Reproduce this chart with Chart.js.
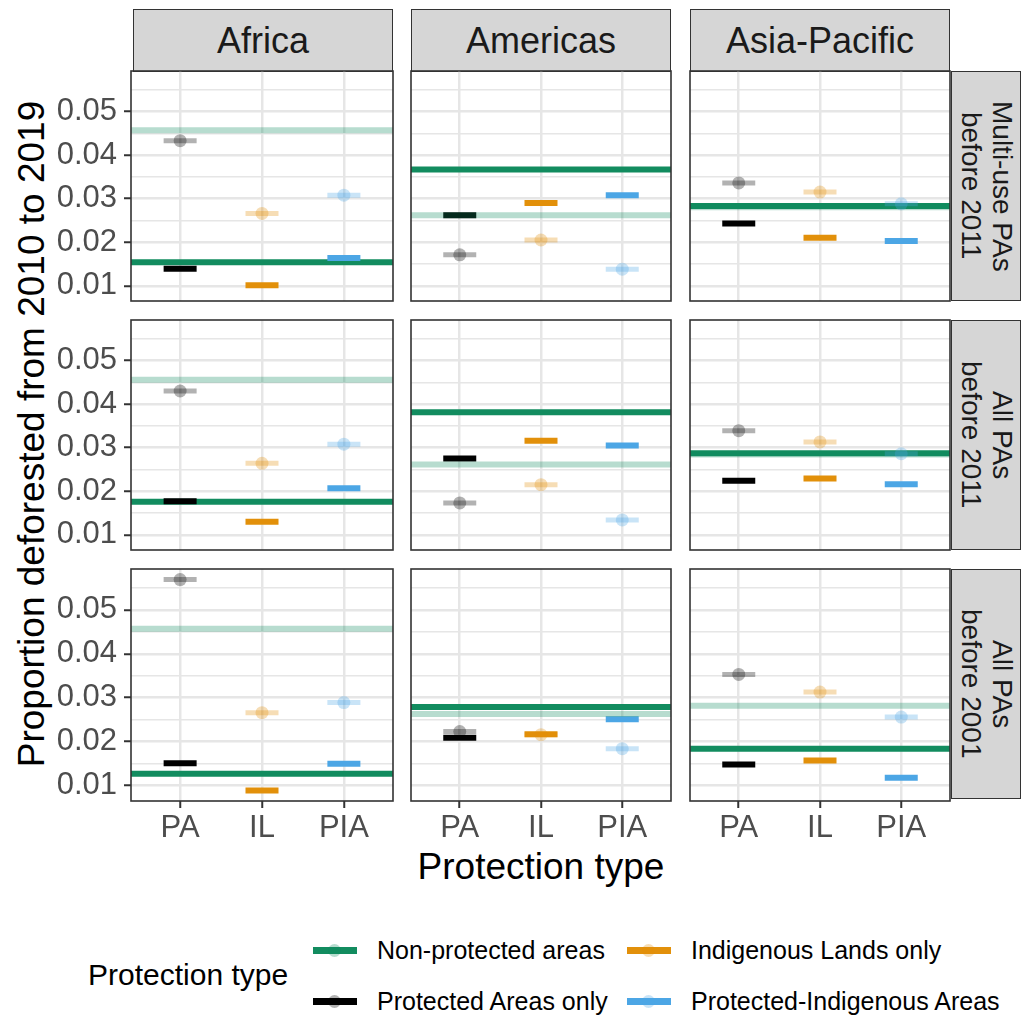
<!DOCTYPE html>
<html>
<head>
<meta charset="utf-8">
<title>Deforestation by protection type</title>
<script src="https://cdn.jsdelivr.net/npm/chart.js@4.4.1/dist/chart.umd.min.js"></script>
<style>
  html, body { margin: 0; background: #fff; }
  body { font-family: 'Liberation Sans', Arial, sans-serif; }
  #figure { position: relative; width: 1023px; height: 1017px; overflow: hidden; background: #fff; }
  .panel { position: absolute; }
  .strip { position: absolute; box-sizing: border-box; background: #d6d6d6; border: 1.5px solid #333;
    display: flex; align-items: center; justify-content: center; color: #1a1a1a; }
  .strip-top { font-size: 36px; }
  .strip-right span { writing-mode: vertical-rl; font-size: 28px; line-height: 1.1; text-align: center; }
  .axis-title { position: absolute; color: #000; text-align: center; white-space: nowrap; }
  #x-title { left: 341px; top: 845px; width: 400px; font-size: 37px; line-height: 44px; }
  #y-title { left: -368px; top: 412px; width: 800px; font-size: 37px; line-height: 44px; transform: rotate(-90deg); }
  #legend-title { position: absolute; left: 88px; top: 957px; font-size: 30px; line-height: 36px; }
  #legend { position: absolute; left: 313px; top: 925px; display: grid;
    grid-template-columns: 64px 250px 64px auto; grid-auto-rows: 51px; align-items: center; font-size: 25px; }
  .key { position: relative; width: 44px; height: 7px; }
  .key::after { content: ''; position: absolute; left: 15px; top: -3px; width: 13px; height: 13px;
    border-radius: 50%; background: var(--light); }
</style>
</head>
<body>
<div id="figure">
  <div id="y-title" class="axis-title">Proportion deforested from 2010 to 2019</div>
  <div id="x-title" class="axis-title">Protection type</div>
  <div id="legend-title">Protection type</div>
  <div id="legend"></div>
</div>
<script>
const regions = ['Africa', 'Americas', 'Asia-Pacific'];
const periods = [['Multi-use PAs', 'before 2011'], ['All PAs', 'before 2011'], ['All PAs', 'before 2001']];
const protTypes = ['PA', 'IL', 'PIA'];
const yMajorTicks = [0.01, 0.02, 0.03, 0.04, 0.05];
const yMinorTicks = [0.015, 0.025, 0.035, 0.045, 0.055];

// rows follow periods, columns follow regions, inner values are PA, IL, PIA
const matched = [
  [[0.0139, 0.0101, 0.0164], [0.0262, 0.0290, 0.0308], [0.0243, 0.0210, 0.0203]],
  [[0.0177, 0.0130, 0.0207], [0.0275, 0.0316, 0.0305], [0.0224, 0.0229, 0.0216]],
  [[0.0151, 0.0089, 0.0150], [0.0209, 0.0217, 0.0251], [0.0148, 0.0157, 0.0118]],
];
const unmatched = [
  [[0.0433, 0.0266, 0.0308], [0.0171, 0.0205, 0.0138], [0.0336, 0.0315, 0.0288]],
  [[0.0430, 0.0264, 0.0308], [0.0173, 0.0215, 0.0134], [0.0339, 0.0313, 0.0286]],
  [[0.0569, 0.0266, 0.0289], [0.0223, 0.0216, 0.0184], [0.0353, 0.0313, 0.0256]],
];
// non-protected reference levels, rows x regions
const nonProtected = [
  [0.0154, 0.0367, 0.0283],
  [0.0176, 0.0381, 0.0287],
  [0.0127, 0.0279, 0.0184],
];
const nonProtectedRaw = [
  [0.0457, 0.0262, 0.0280],
  [0.0456, 0.0261, 0.0284],
  [0.0457, 0.0263, 0.0282],
];

const GREEN = '#128c5f';
const GREEN_LIGHT = 'rgba(18,140,95,0.3)';
const typeColors = ['#000000', '#e2900a', '#4ca6e5'];
const typeLight = ['rgba(0,0,0,0.3)', 'rgba(226,144,10,0.3)', 'rgba(76,166,229,0.3)'];
const legendItems = [
  ['Non-protected areas', GREEN, GREEN_LIGHT],
  ['Indigenous Lands only', typeColors[1], typeLight[1]],
  ['Protected Areas only', typeColors[0], typeLight[0]],
  ['Protected-Indigenous Areas', typeColors[2], typeLight[2]],
];

// facet geometry
const colLeft = [133, 411, 690];
const rowTop = [71, 320, 569];
const PANEL_W = 260;
const PANEL_H = 230;
const Y_AXIS_W = 131;
const X_AXIS_H = 48;
const PAD = 2;
const X_MIN = 0.4;
const X_MAX = 3.6;

const allValues = [matched.flat(2), unmatched.flat(2), nonProtected.flat(), nonProtectedRaw.flat()].flat();
const lo = Math.min(...allValues);
const hi = Math.max(...allValues);
const Y_MIN = lo - (hi - lo) * 0.05;
const Y_MAX = hi + (hi - lo) * 0.05;
const yTicks = yMajorTicks.map((v) => ({ value: v, major: true }))
  .concat(yMinorTicks.map((v) => ({ value: v, major: false })))
  .sort((a, b) => a.value - b.value);

Chart.defaults.font.family = "'Liberation Sans', Arial, sans-serif";

const panelBorder = {
  id: 'panelBorder',
  afterDraw(chart) {
    const { ctx, chartArea: a } = chart;
    ctx.save();
    ctx.strokeStyle = '#333333';
    ctx.lineWidth = 1.6;
    ctx.strokeRect(a.left, a.top, a.width, a.height);
    ctx.restore();
  },
};

function hline(value, color, order) {
  return {
    data: [{ x: X_MIN, y: value }, { x: X_MAX, y: value }],
    showLine: true,
    borderColor: color,
    borderWidth: 6,
    pointRadius: 0,
    order,
  };
}

function renderPanel(r, c) {
  const showY = c === 0;
  const showX = r === periods.length - 1;
  const left = colLeft[c] - PAD - (showY ? Y_AXIS_W : 0);
  const top = rowTop[r] - PAD;
  const width = PANEL_W + 2 * PAD + (showY ? Y_AXIS_W : 0);
  const height = PANEL_H + 2 * PAD + (showX ? X_AXIS_H : 0);

  const wrap = document.createElement('div');
  wrap.className = 'panel';
  wrap.style.left = left + 'px';
  wrap.style.top = top + 'px';
  const canvas = document.createElement('canvas');
  canvas.width = width;
  canvas.height = height;
  wrap.appendChild(canvas);
  document.getElementById('figure').appendChild(wrap);

  const points = (values) => protTypes.map((t, i) => ({ x: i + 1, y: values[i] }));

  new Chart(canvas, {
    type: 'scatter',
    data: {
      datasets: [
        hline(nonProtected[r][c], GREEN, 6),
        {
          data: points(matched[r][c]),
          pointStyle: 'line',
          pointRadius: 16.5,
          pointBorderWidth: 6,
          pointBorderColor: typeColors,
          pointBackgroundColor: typeColors,
          order: 5,
        },
        hline(nonProtectedRaw[r][c], GREEN_LIGHT, 4),
        {
          data: points(unmatched[r][c]),
          pointStyle: 'line',
          pointRadius: 16.5,
          pointBorderWidth: 5,
          pointBorderColor: typeLight,
          pointBackgroundColor: typeLight,
          order: 3,
        },
        {
          data: points(unmatched[r][c]),
          pointStyle: 'circle',
          pointRadius: 6.5,
          pointBorderWidth: 0,
          pointBackgroundColor: typeLight,
          order: 2,
        },
      ],
    },
    options: {
      responsive: false,
      animation: false,
      events: [],
      layout: { padding: { left: showY ? 0 : PAD, right: PAD, top: PAD, bottom: showX ? 0 : PAD }, autoPadding: false },
      plugins: { legend: { display: false }, tooltip: { enabled: false } },
      scales: {
        x: {
          type: 'linear',
          min: X_MIN,
          max: X_MAX,
          afterBuildTicks: (scale) => { scale.ticks = protTypes.map((t, i) => ({ value: i + 1 })); },
          afterFit: (scale) => {
            scale.height = showX ? X_AXIS_H : 0;
            scale.paddingLeft = 0;
            scale.paddingRight = 0;
          },
          border: { display: false },
          grid: {
            color: '#e6e6e6',
            lineWidth: 2.5,
            drawTicks: showX,
            tickLength: 7,
            tickWidth: 2,
            tickColor: '#333333',
          },
          ticks: {
            display: showX,
            maxRotation: 0,
            autoSkip: false,
            padding: 2,
            color: '#4d4d4d',
            font: { size: 31 },
            callback: (value, index) => protTypes[index],
          },
        },
        y: {
          type: 'linear',
          min: Y_MIN,
          max: Y_MAX,
          afterBuildTicks: (scale) => { scale.ticks = yTicks.map((t) => ({ ...t })); },
          afterFit: (scale) => {
            scale.width = showY ? Y_AXIS_W : 0;
            scale.paddingTop = 0;
            scale.paddingBottom = 0;
          },
          border: { display: false },
          grid: {
            color: '#e6e6e6',
            lineWidth: (ctx) => (ctx.tick && ctx.tick.major ? 2.5 : 1.5),
            drawTicks: showY,
            tickLength: 7,
            tickWidth: 2,
            tickColor: (ctx) => (ctx.tick && ctx.tick.major ? '#333333' : 'rgba(0,0,0,0)'),
          },
          ticks: {
            display: showY,
            autoSkip: false,
            padding: 7,
            color: '#4d4d4d',
            font: { size: 31 },
            callback: (value, index, ticks) => (ticks[index].major ? value.toFixed(2) : ''),
          },
        },
      },
    },
    plugins: [panelBorder],
  });
}

function renderStrips() {
  const fig = document.getElementById('figure');
  regions.forEach((name, c) => {
    const s = document.createElement('div');
    s.className = 'strip strip-top';
    s.style.left = colLeft[c] + 'px';
    s.style.top = (rowTop[0] - 62) + 'px';
    s.style.width = PANEL_W + 'px';
    s.style.height = '63px';
    s.textContent = name;
    fig.appendChild(s);
  });
  periods.forEach((lines, r) => {
    const s = document.createElement('div');
    s.className = 'strip strip-right';
    s.style.left = (colLeft[2] + PANEL_W + 1) + 'px';
    s.style.top = rowTop[r] + 'px';
    s.style.width = '70px';
    s.style.height = PANEL_H + 'px';
    s.innerHTML = `<span>${lines.join('<br>')}</span>`;
    fig.appendChild(s);
  });
}

function renderLegend() {
  document.getElementById('legend').innerHTML = legendItems
    .map(([label, color, light]) => `
      <div><div class="key" style="background:${color};--light:${light}"></div></div>
      <div>${label}</div>`)
    .join('');
}

renderStrips();
for (let r = 0; r < periods.length; r++) {
  for (let c = 0; c < regions.length; c++) renderPanel(r, c);
}
renderLegend();
</script>
</body>
</html>
